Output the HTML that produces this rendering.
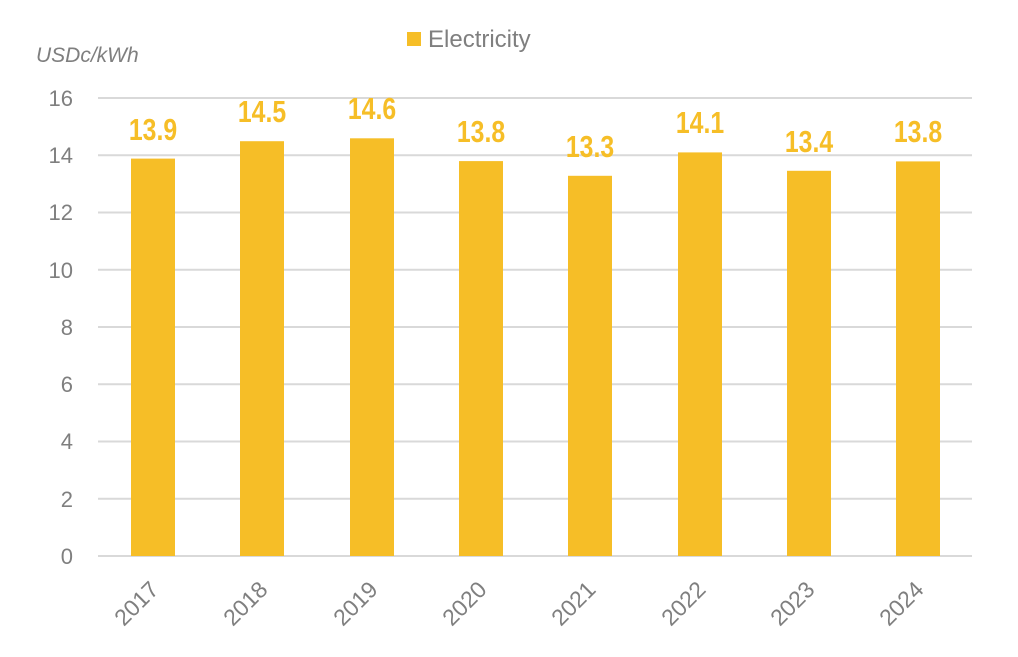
<!DOCTYPE html>
<html><head><meta charset="utf-8"><style>html,body{margin:0;padding:0;background:#fff}</style></head>
<body>
<svg width="1018" height="652" xmlns="http://www.w3.org/2000/svg" font-family="Liberation Sans, sans-serif">
<rect width="1018" height="652" fill="#fff"/>
<g stroke="#d9d9d9" stroke-width="2">
<line x1="98" x2="972" y1="98" y2="98"/><line x1="98" x2="972" y1="155.25" y2="155.25"/>
<line x1="98" x2="972" y1="212.5" y2="212.5"/><line x1="98" x2="972" y1="269.75" y2="269.75"/>
<line x1="98" x2="972" y1="327" y2="327"/><line x1="98" x2="972" y1="384.25" y2="384.25"/>
<line x1="98" x2="972" y1="441.5" y2="441.5"/><line x1="98" x2="972" y1="498.75" y2="498.75"/>
<line x1="98" x2="972" y1="556" y2="556"/>
</g>
<g fill="#7f7f7f" font-size="22" text-anchor="end">
<text x="73" y="106">16</text><text x="73" y="163">14</text><text x="73" y="220">12</text>
<text x="73" y="278">10</text><text x="73" y="335">8</text><text x="73" y="392">6</text>
<text x="73" y="449">4</text><text x="73" y="507">2</text><text x="73" y="564">0</text>
</g>
<text x="36" y="62" fill="#7f7f7f" font-size="21" font-style="italic">USDc/kWh</text>
<rect x="407" y="32" width="14" height="14" fill="#f6be27"/>
<text x="428" y="47" fill="#7f7f7f" font-size="24">Electricity</text>
<g fill="#f6be27">
<rect x="131" y="158.6" width="44" height="397.4"/>
<rect x="240" y="141.2" width="44" height="414.8"/>
<rect x="350" y="138.3" width="44" height="417.7"/>
<rect x="459" y="161.1" width="44" height="394.9"/>
<rect x="568" y="175.8" width="44" height="380.2"/>
<rect x="678" y="152.4" width="44" height="403.6"/>
<rect x="787" y="170.8" width="44" height="385.2"/>
<rect x="896" y="161.4" width="44" height="394.6"/>
</g>
<g fill="#f6be27" font-size="31" font-weight="bold" text-anchor="middle">
<text transform="translate(153,140) scale(0.8,1)">13.9</text>
<text transform="translate(262,122) scale(0.8,1)">14.5</text>
<text transform="translate(372,119) scale(0.8,1)">14.6</text>
<text transform="translate(481,142) scale(0.8,1)">13.8</text>
<text transform="translate(590,157) scale(0.8,1)">13.3</text>
<text transform="translate(700,133) scale(0.8,1)">14.1</text>
<text transform="translate(809,152) scale(0.8,1)">13.4</text>
<text transform="translate(918,142) scale(0.8,1)">13.8</text>
</g>
<g fill="#7f7f7f" font-size="23" text-anchor="end">
<text transform="translate(160,591) rotate(-45)">2017</text>
<text transform="translate(269,591) rotate(-45)">2018</text>
<text transform="translate(379,591) rotate(-45)">2019</text>
<text transform="translate(488,591) rotate(-45)">2020</text>
<text transform="translate(597,591) rotate(-45)">2021</text>
<text transform="translate(707,591) rotate(-45)">2022</text>
<text transform="translate(816,591) rotate(-45)">2023</text>
<text transform="translate(925,591) rotate(-45)">2024</text>
</g>
</svg>
</body></html>
